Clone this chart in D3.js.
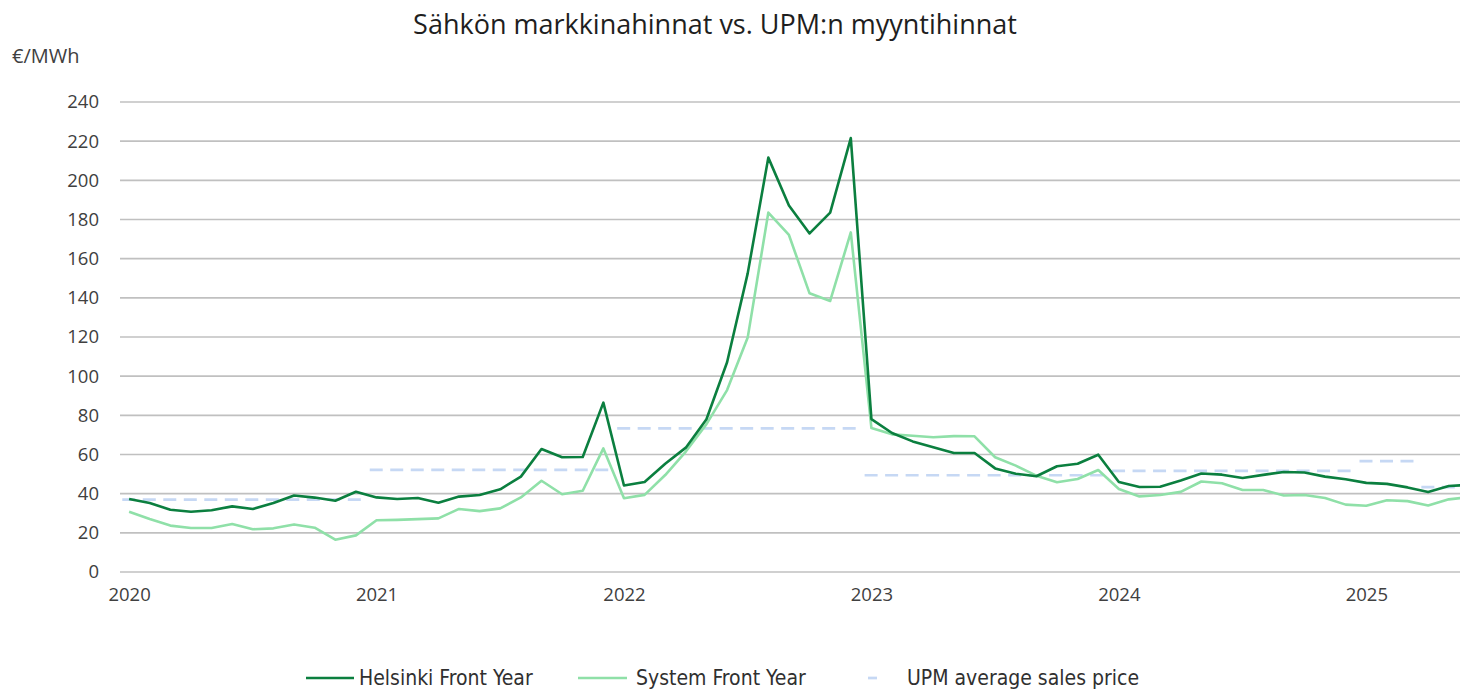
<!DOCTYPE html>
<html lang="fi">
<head>
<meta charset="utf-8" />
<title>Sähkön markkinahinnat</title>
<script src="https://cdn.jsdelivr.net/npm/d3@7"></script>
<style>
  body { margin: 0; background: #fff; }
  svg { display: block; font-family: "Open Sans", sans-serif; }
</style>
</head>
<body>
<svg id="chart" width="1460" height="691"></svg>
<script>
// year tick labels (one per January)
const years = ["2020", "2021", "2022", "2023", "2024", "2025"];

// monthly values Jan 2020 .. Jun 2025, €/MWh
const helsinki = [
  37.3, 35.2, 31.8, 30.8, 31.5, 33.5, 32.2, 35.2, 39.1, 38.0, 36.4, 41.0,
  38.1, 37.3, 37.8, 35.4, 38.5, 39.3, 42.2, 48.7, 62.8, 58.6, 58.7, 86.5,
  44.2, 46.0, 55.3, 63.5, 78.0, 107.1, 152.5, 211.6, 187.2, 172.9, 183.5, 221.6,
  78.1, 71.0, 66.7, 63.7, 60.8, 60.8, 52.9, 50.2, 48.9, 54.0, 55.3, 59.9,
  46.0, 43.4, 43.5, 46.7, 50.3, 49.7, 48.0, 49.6, 51.1, 50.8, 48.7, 47.4,
  45.5, 45.0, 43.2, 40.9, 43.9, 44.5
];
const system = [
  30.8, 27.1, 23.7, 22.5, 22.5, 24.5, 21.8, 22.3, 24.3, 22.6, 16.5, 18.7,
  26.4, 26.6, 27.0, 27.4, 32.2, 31.1, 32.5, 38.1, 46.6, 39.7, 41.5, 63.1,
  37.7, 39.4, 49.5, 61.5, 75.5, 92.9, 119.7, 183.5, 172.1, 142.3, 138.4, 173.4,
  73.5, 70.3, 69.6, 68.8, 69.4, 69.3, 58.6, 54.3, 49.2, 45.8, 47.5, 52.1,
  42.4, 38.6, 39.3, 40.9, 46.2, 45.3, 41.9, 41.9, 39.1, 39.3, 37.8, 34.4,
  33.8, 36.6, 36.2, 34.0, 37.1, 38.2
];

// UPM average sales price, one flat level per period (first month, last month)
const upmFrom  = ["2020-01", "2021-01", "2022-01", "2023-01", "2024-01", "2025-01", "2025-04"];
const upmTo    = ["2020-12", "2021-12", "2022-12", "2023-12", "2024-12", "2025-03", "2025-06"];
const upmValue = [37.0, 52.1, 73.3, 49.4, 51.6, 56.6, 43.3];

const yTicks = [0, 20, 40, 60, 80, 100, 120, 140, 160, 180, 200, 220, 240];

const months = d3.range(helsinki.length).map(i =>
  `${2020 + Math.floor(i / 12)}-${String(i % 12 + 1).padStart(2, "0")}`);
const monthIndex = m => months.indexOf(m);

const svg = d3.select("#chart");
const width = +svg.attr("width");

const plotLeft = 120;
const x = d3.scaleLinear().domain([0, 65]).range([129.1, 1469.4]);
const y = d3.scaleLinear().domain([0, 240]).range([572, 102]);

const darkGreen = "#0b7f3f";
const lightGreen = "#8fe0a8";
const upmBlue = "#c6d8f4";

// title
svg.append("text")
  .attr("x", 715).attr("y", 34)
  .attr("text-anchor", "middle")
  .attr("font-size", 27)
  .attr("fill", "#1e1e1e")
  .text("Sähkön markkinahinnat vs. UPM:n myyntihinnat");

svg.append("text")
  .attr("x", 12).attr("y", 63)
  .attr("font-size", 20)
  .attr("fill", "#404040")
  .text("€/MWh");

// gridlines
svg.append("g")
  .selectAll("line")
  .data(yTicks)
  .join("line")
    .attr("x1", plotLeft).attr("x2", width)
    .attr("y1", d => y(d)).attr("y2", d => y(d))
    .attr("stroke", "#c0c0c0")
    .attr("stroke-width", 1.6);

// y axis labels
const yAxis = svg.append("g")
  .attr("transform", `translate(${plotLeft},0)`)
  .call(d3.axisLeft(y).tickValues(yTicks).tickSize(0).tickPadding(21));
yAxis.select(".domain").remove();
yAxis.selectAll(".tick text")
  .attr("font-family", "Open Sans")
  .attr("font-size", 18.5)
  .attr("fill", "#404040");

// x axis labels
const xAxis = svg.append("g")
  .attr("transform", `translate(0,${y(0)})`)
  .call(d3.axisBottom(x)
    .tickValues(years.map((d, i) => i * 12))
    .tickFormat((d, i) => years[i])
    .tickSize(0).tickPadding(16));
xAxis.select(".domain").remove();
xAxis.selectAll(".tick text")
  .attr("font-family", "Open Sans")
  .attr("font-size", 18.5)
  .attr("fill", "#404040");

// UPM average sales price
svg.append("g")
  .selectAll("line")
  .data(upmValue)
  .join("line")
    .attr("x1", (d, i) => x(monthIndex(upmFrom[i]) - 0.33))
    .attr("x2", (d, i) => x(monthIndex(upmTo[i]) + 0.33))
    .attr("y1", d => y(d)).attr("y2", d => y(d))
    .attr("stroke", upmBlue)
    .attr("stroke-width", 2.7)
    .attr("stroke-dasharray", "13,7.5");

const line = d3.line()
  .x((d, i) => x(i))
  .y(d => y(d));

svg.append("path")
  .datum(system)
  .attr("fill", "none")
  .attr("stroke", lightGreen)
  .attr("stroke-width", 2.6)
  .attr("stroke-linejoin", "round")
  .attr("d", line);

svg.append("path")
  .datum(helsinki)
  .attr("fill", "none")
  .attr("stroke", darkGreen)
  .attr("stroke-width", 2.6)
  .attr("stroke-linejoin", "round")
  .attr("d", line);

// legend
const legendItems = [
  { label: "Helsinki Front Year", color: darkGreen, x1: 306, x2: 354, tx: 359 },
  { label: "System Front Year", color: lightGreen, x1: 578, x2: 627, tx: 636 },
  { label: "UPM average sales price", color: upmBlue, x1: 868, x2: 877, tx: 907 }
];
const legend = svg.append("g");
legend.selectAll("line")
  .data(legendItems)
  .join("line")
    .attr("x1", d => d.x1).attr("x2", d => d.x2)
    .attr("y1", 678).attr("y2", 678)
    .attr("stroke", d => d.color)
    .attr("stroke-width", 2.7);
legend.selectAll("text")
  .data(legendItems)
  .join("text")
    .attr("x", d => d.tx).attr("y", 685)
    .attr("font-family", "'Liberation Sans Narrow', 'DejaVu Sans Condensed', sans-serif")
    .attr("font-stretch", "condensed")
    .attr("font-size", 21)
    .attr("fill", "#303030")
    .text(d => d.label);
</script>
</body>
</html>
